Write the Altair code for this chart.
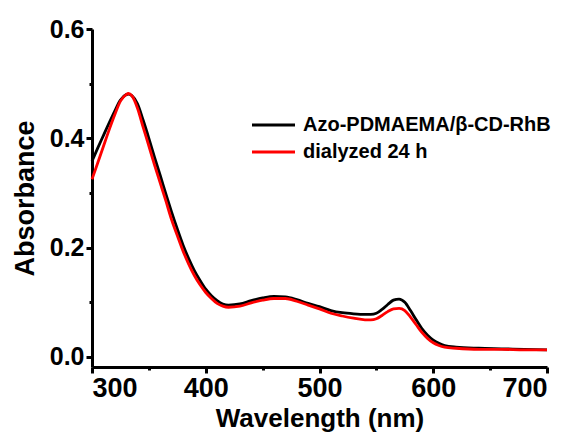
import altair as alt
import pandas as pd

# UV-vis absorbance spectra before and after dialysis
wavelength = [300, 305, 310, 315, 320, 325, 330, 332, 335, 340, 345, 350, 355,
              360, 365, 370, 375, 380, 385, 390, 395, 400, 405, 410, 415, 420,
              430, 440, 450, 460, 470, 480, 490, 500, 510, 520, 530, 540, 545,
              550, 555, 560, 565, 570, 575, 580, 585, 590, 595, 600, 605, 610,
              620, 640, 660, 680, 700]

abs_complex = [0.358, 0.382, 0.405, 0.428, 0.450, 0.470, 0.480, 0.481, 0.478,
               0.463, 0.433, 0.400, 0.365, 0.332, 0.298, 0.265, 0.234, 0.205,
               0.180, 0.158, 0.140, 0.124, 0.112, 0.103, 0.097, 0.095, 0.097,
               0.103, 0.108, 0.111, 0.110, 0.105, 0.098, 0.092, 0.085, 0.081,
               0.079, 0.078, 0.078, 0.080, 0.087, 0.096, 0.104, 0.106, 0.100,
               0.085, 0.068, 0.052, 0.040, 0.031, 0.025, 0.021, 0.018, 0.016,
               0.015, 0.014, 0.013]

abs_dialyzed = [0.325, 0.355, 0.385, 0.415, 0.443, 0.468, 0.480, 0.482, 0.478,
                0.455, 0.420, 0.386, 0.351, 0.318, 0.285, 0.251, 0.222, 0.194,
                0.170, 0.149, 0.132, 0.118, 0.107, 0.098, 0.093, 0.091, 0.093,
                0.099, 0.104, 0.107, 0.107, 0.102, 0.095, 0.088, 0.080, 0.075,
                0.071, 0.068, 0.068, 0.070, 0.076, 0.083, 0.088, 0.089, 0.085,
                0.073, 0.059, 0.045, 0.034, 0.026, 0.021, 0.018, 0.016, 0.014,
                0.014, 0.013, 0.013]

series_names = ["Azo-PDMAEMA/β-CD-RhB", "dialyzed 24 h"]
series_colors = ["#000000", "#ff0000"]

FONT = "Liberation Sans"

x_scale = alt.Scale(domain=[300, 700], nice=False, zero=False)
y_scale = alt.Scale(domain=[-0.0183, 0.6], nice=False, zero=False)

x_axis = alt.Axis(
    values=list(range(300, 701, 50)),
    labelExpr="datum.value % 100 == 0 ? datum.label : ''",
    tickSize={"condition": {"test": "datum.value % 100 == 0", "value": 6}, "value": 3},
    title="Wavelength (nm)",
    titleFontSize=26, titlePadding=4,
    labelFontSize=27, labelPadding=2,
    grid=False,
)
y_axis = alt.Axis(
    values=[0.0, 0.1, 0.2, 0.3, 0.4, 0.5, 0.6],
    format=".1f",
    labelExpr="round(datum.value * 10) % 2 == 0 ? datum.label : ''",
    tickSize={"condition": {"test": "round(datum.value * 10) % 2 == 0", "value": 6}, "value": 3},
    title="Absorbance",
    titleFontSize=27, titlePadding=10,
    labelFontSize=25, labelPadding=2,
    grid=False,
)


def spectrum(values, color):
    df = pd.DataFrame({"wavelength": wavelength, "absorbance": values})
    return alt.Chart(df).mark_line(
        color=color, strokeWidth=2.8, interpolate="monotone"
    ).encode(
        x=alt.X("wavelength:Q", scale=x_scale, axis=x_axis),
        y=alt.Y("absorbance:Q", scale=y_scale, axis=y_axis),
    )


layers = [
    spectrum(abs_complex, series_colors[0]),
    spectrum(abs_dialyzed, series_colors[1]),
]

# legend: short line sample followed by the series name
for i, (name, color) in enumerate(zip(series_names, series_colors)):
    yy = 96 + i * 27
    layers.append(
        alt.Chart(pd.DataFrame({"label": [name]})).mark_rule(
            color=color, strokeWidth=2.8
        ).encode(x=alt.value(160), x2=alt.value(203), y=alt.value(yy))
    )
    layers.append(
        alt.Chart(pd.DataFrame({"label": [name]})).mark_text(
            align="left", baseline="middle", font=FONT, fontWeight="bold",
            fontSize=20, color="#000000"
        ).encode(x=alt.value(211), y=alt.value(yy), text="label:N")
    )

chart = alt.layer(*layers).properties(
    width=455,
    height=338,
    autosize=alt.AutoSizeParams(type="none"),
    padding={"left": 92, "top": 29, "right": 29, "bottom": 67},
    background="#ffffff",
).configure_view(
    stroke=None
).configure_axis(
    domainColor="#000000", domainWidth=3,
    tickColor="#000000", tickWidth=3,
    labelColor="#000000", labelFont=FONT, labelFontWeight="bold",
    titleColor="#000000", titleFont=FONT, titleFontWeight="bold",
)

chart.save("out.html", embed_options={"renderer": "svg", "actions": False})
